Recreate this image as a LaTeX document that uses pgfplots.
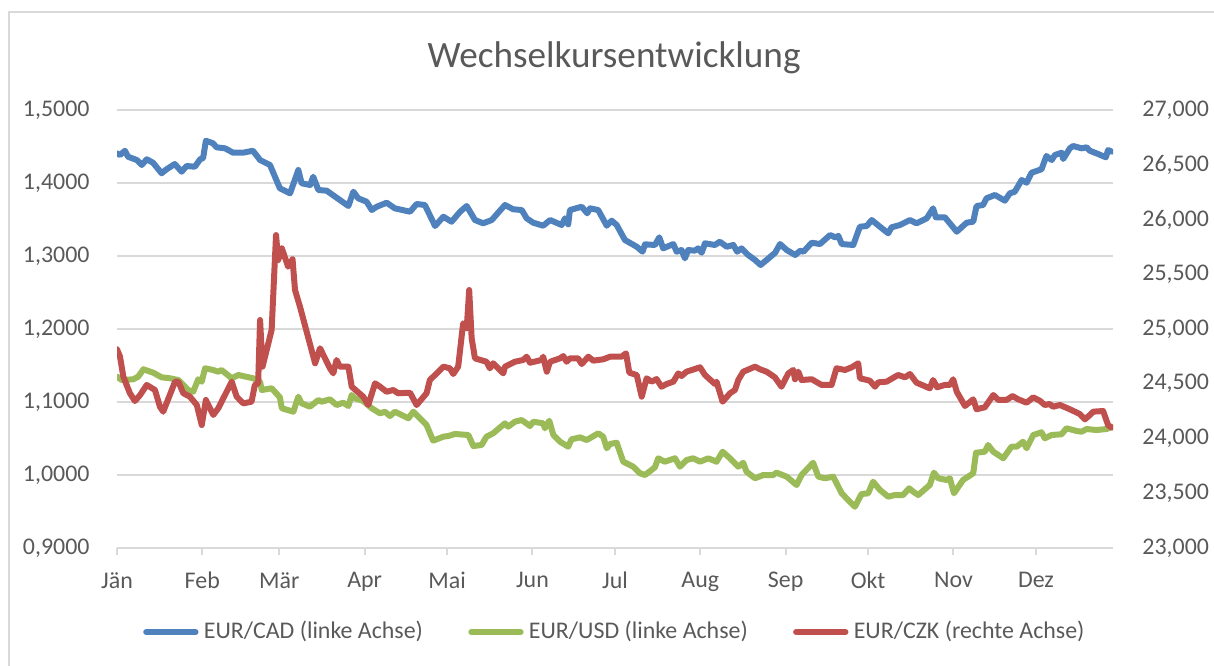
\documentclass[border=0pt]{standalone}
\usepackage{fontspec}
\setmainfont{Carlito}
\usepackage{pgfplots}
\pgfplotsset{compat=1.18}
\definecolor{cadblue}{RGB}{79,129,189}
\definecolor{usdgreen}{RGB}{155,187,89}
\definecolor{czkred}{RGB}{192,80,77}
\definecolor{txtgray}{RGB}{89,89,89}
\definecolor{gridgray}{RGB}{217,217,217}

\pgfplotsset{
  frame/.style={scale only axis, width=373.5bp, height=164.25bp,
    xmin=0, xmax=362, at={(43.875bp,44.25bp)}, anchor=south west,
    scaled y ticks=false,
    tick label style={font=\fontsize{9}{10}\selectfont, text=txtgray},
    y axis line style={draw=none}, ytick style={draw=none}},
  serie/.style={line width=2.25bp, line join=round, line cap=round, mark=none},
}

\begin{document}
\begin{tikzpicture}
\useasboundingbox (0,0) rectangle (455.25bp,249.75bp);
\draw[gridgray, line width=0.75bp] (3.375bp,0) -- (3.375bp,245.25bp) -- (455.25bp,245.25bp);
\node[font=\fontsize{14}{16}\selectfont, text=txtgray] at (230.25bp,228.2bp) {Wechselkursentwicklung};

% linke Achse: EUR/CAD und EUR/USD
\begin{axis}[frame,
    axis x line*=bottom, axis y line*=left,
    x axis line style={draw=gridgray, line width=0.75bp, -},
    xtick={0,31,59,90,120,151,181,212,243,273,304,334},
    xticklabels={Jän,Feb,Mär,Apr,Mai,Jun,Jul,Aug,Sep,Okt,Nov,Dez},
    xtick style={draw=gridgray, line width=0.75bp},
    tick align=outside, major tick length=2.6bp,
    xticklabel style={yshift=-3bp},
    ymin=0.9, ymax=1.5, ytick distance=0.1,
    ymajorgrids, grid style={gridgray, line width=0.75bp},
    yticklabel style={xshift=-4.2bp, /pgf/number format/.cd, fixed, fixed zerofill, precision=4, use comma, assume math mode=true},
    legend columns=3,
    legend style={at={(0.5015,-0.192)}, anchor=center, draw=none, fill=none,
      font=\fontsize{9}{10}\selectfont, text=txtgray,
      /tikz/every even column/.append style={column sep=15bp}},
    legend image code/.code={\draw[#1, line cap=round] (0bp,0bp) -- (18.5bp,0bp);},
]
\addplot[serie, cadblue] coordinates {
(0,1.4407) (1.1,1.4384) (2.9,1.4442) (4.0,1.4360) (7.2,1.4315) (9.0,1.4247) (10.8,1.4325) (13.1,1.4278)
(16.2,1.4133) (18.0,1.4188) (21.0,1.4260) (23.5,1.4155) (25.3,1.4233) (28.3,1.4223) (30.2,1.4325) (31.3,1.4342)
(32.3,1.4579) (34.9,1.4544) (36.2,1.4489) (39.3,1.4475) (42.2,1.4415) (45.8,1.4415) (49.4,1.4442) (52.0,1.4315)
(55.6,1.4247) (59.2,1.3927) (62.9,1.3859) (65.9,1.4178) (67.1,1.3996) (70.2,1.3973) (71.3,1.4086) (73.2,1.3904)
(76.2,1.3895) (84.1,1.3685) (85.9,1.3881) (87.7,1.3790) (90.7,1.3744) (92.6,1.3630) (94.4,1.3675) (98.0,1.3730)
(101.0,1.3653) (106.5,1.3607) (108.9,1.3712) (111.9,1.3699) (115.6,1.3411) (118.6,1.3538) (121.6,1.3470) (124.7,1.3607)
(127.1,1.3685) (130.1,1.3493) (133.1,1.3448) (136.2,1.3493) (141.0,1.3699) (144.0,1.3640) (147.1,1.3630) (148.9,1.3516)
(151.3,1.3456) (154.9,1.3415) (157.4,1.3493) (161.6,1.3425) (162.8,1.3516) (164.0,1.3434) (164.6,1.3630) (168.9,1.3675)
(170.9,1.3585) (171.9,1.3653) (174.9,1.3630) (178.0,1.3415) (179.8,1.3484) (181.6,1.3425) (184.6,1.3219) (188.9,1.3127)
(191.0,1.3059) (191.9,1.3160) (195.5,1.3151) (197.1,1.3256) (198.5,1.3105) (202.2,1.3164) (203.4,1.3059) (205.2,1.3082)
(206.4,1.2968) (207.6,1.3082) (210.0,1.3073) (211.2,1.3105) (212.5,1.3045) (213.7,1.3174) (217.3,1.3151) (219.1,1.3196)
(221.6,1.3127) (224.0,1.3151) (225.4,1.3059) (227.0,1.3105) (229.4,1.3014) (231.9,1.2945) (233.9,1.2877) (236.1,1.2945)
(239.2,1.3045) (241.0,1.3164) (243.4,1.3082) (246.5,1.3014) (248.3,1.3073) (249.5,1.3059) (252.5,1.3182) (255.5,1.3164)
(259.2,1.3288) (261.0,1.3256) (262.2,1.3274) (263.4,1.3164) (267.6,1.3151) (270.0,1.3401) (272.5,1.3411) (274.3,1.3493)
(277.3,1.3401) (280.3,1.3311) (281.5,1.3393) (284.6,1.3425) (288.2,1.3493) (290.6,1.3448) (294.3,1.3516) (296.6,1.3653)
(297.6,1.3530) (300.9,1.3530) (302.7,1.3448) (305.2,1.3333) (308.8,1.3456) (311.2,1.3470) (312.4,1.3685) (314.8,1.3699)
(316.0,1.3790) (319.1,1.3836) (322.7,1.3758) (324.5,1.3859) (326.3,1.3881) (328.8,1.4041) (330.6,1.4004) (332.4,1.4141)
(336.0,1.4188) (337.8,1.4370) (339.7,1.4315) (340.9,1.4384) (343.3,1.4415) (343.9,1.4329) (346.3,1.4475) (347.5,1.4507)
(350.6,1.4475) (352.4,1.4489) (353.6,1.4442) (356.6,1.4397) (359.4,1.4352) (360.2,1.4452) (361.5,1.4429)
};
\addlegendentry{EUR/CAD (linke Achse)}
\addplot[serie, usdgreen] coordinates {
(0,1.1347) (1.7,1.1301) (5.9,1.1311) (7.7,1.1347) (9.6,1.1448) (13.2,1.1401) (16.2,1.1338) (19.3,1.1325)
(22.3,1.1301) (25.9,1.1164) (27.7,1.1141) (29.5,1.1311) (30.8,1.1278) (32.0,1.1462) (35.0,1.1438) (36.8,1.1415)
(38.0,1.1438) (41.7,1.1325) (44.1,1.1370) (49.5,1.1325) (52.0,1.1278) (52.6,1.1164) (56.2,1.1188) (59.2,1.1064)
(59.9,1.0914) (64.1,1.0867) (65.9,1.1073) (67.1,1.0982) (70.1,1.0936) (73.2,1.1027) (74.4,1.1004) (77.4,1.1037)
(79.8,1.0959) (82.2,1.0990) (84.1,1.0945) (85.3,1.1096) (86.5,1.1051) (89.5,1.1014) (92.6,1.0914) (95.6,1.0845)
(97.4,1.0867) (99.2,1.0808) (101.0,1.0867) (105.9,1.0777) (107.7,1.0867) (112.5,1.0685) (114.9,1.0470) (118.6,1.0525)
(120.4,1.0534) (122.8,1.0562) (127.7,1.0548) (129.5,1.0397) (132.5,1.0411) (134.3,1.0525) (136.7,1.0571) (141.0,1.0708)
(142.2,1.0662) (144.6,1.0730) (147.1,1.0753) (150.1,1.0671) (151.3,1.0730) (154.9,1.0708) (155.5,1.0640) (157.1,1.0744)
(158.6,1.0548) (161.0,1.0456) (164.0,1.0388) (165.2,1.0489) (168.3,1.0516) (170.7,1.0479) (174.9,1.0571) (176.7,1.0525)
(178.0,1.0366) (179.2,1.0425) (181.6,1.0442) (184.0,1.0182) (187.6,1.0114) (190.1,1.0023) (191.9,1.0000) (195.5,1.0105)
(196.7,1.0229) (199.1,1.0182) (202.8,1.0229) (204.6,1.0114) (207.0,1.0205) (209.4,1.0229) (211.9,1.0182) (214.9,1.0229)
(217.9,1.0182) (220.1,1.0319) (222.8,1.0229) (225.8,1.0114) (227.6,1.0168) (228.8,1.0045) (231.9,0.9955) (234.9,1.0000)
(238.5,1.0000) (239.7,1.0032) (243.4,0.9977) (247.0,0.9863) (248.8,1.0000) (253.0,1.0168) (254.9,0.9977) (257.3,0.9955)
(260.3,0.9977) (263.4,0.9749) (265.7,0.9658) (268.2,0.9566) (270.6,0.9740) (273.0,0.9749) (274.8,0.9908) (277.3,0.9795)
(280.3,0.9703) (282.7,0.9726) (285.7,0.9726) (287.9,0.9818) (289.4,0.9771) (291.2,0.9726) (295.4,0.9863) (296.9,1.0032)
(298.5,0.9955) (301.5,0.9932) (302.7,0.9955) (304.2,0.9749) (307.5,0.9932) (311.2,1.0023) (312.2,1.0305) (315.4,1.0319)
(316.6,1.0411) (318.5,1.0319) (322.1,1.0229) (325.1,1.0388) (327.0,1.0388) (329.3,1.0456) (330.6,1.0366) (333.0,1.0548)
(336.0,1.0585) (337.2,1.0503) (339.7,1.0548) (343.3,1.0558) (345.1,1.0640) (348.8,1.0603) (350.6,1.0593) (352.4,1.0630)
(356.0,1.0616) (359.7,1.0630) (361.5,1.0662)
};
\addlegendentry{EUR/USD (linke Achse)}
\addlegendimage{serie, czkred}
\addlegendentry{EUR/CZK (rechte Achse)}
\end{axis}

% rechte Achse: EUR/CZK
\begin{axis}[frame,
    hide x axis, axis y line*=right,
    ymin=23000, ymax=27000, ytick distance=500,
    yticklabel style={xshift=7.5bp, /pgf/number format/.cd, fixed, precision=0, 1000 sep={,}, assume math mode=true},
]
\addplot[serie, czkred] coordinates {
(0,24815) (1.1,24747) (2.3,24564) (4.7,24413) (6.5,24342) (8.4,24397) (10.8,24489) (13.8,24443)
(15.6,24290) (16.8,24245) (21.1,24519) (22.3,24519) (24.1,24413) (26.5,24382) (29.0,24306) (30.8,24123)
(32.3,24352) (35.0,24215) (36.8,24276) (41.7,24519) (43.5,24382) (45.9,24321) (48.9,24336) (50.1,24489)
(51.3,24504) (52.0,25082) (52.9,24656) (54.4,24808) (56.2,24991) (57.8,25858) (58.6,25630) (59.9,25737)
(62.2,25569) (63.8,25637) (64.7,25356) (66.5,25204) (69.9,24884) (72.0,24687) (73.8,24824) (77.4,24641)
(78.6,24595) (79.8,24717) (81.0,24656) (84.1,24656) (85.3,24473) (89.5,24382) (91.3,24306) (93.8,24504)
(95.6,24473) (98.0,24427) (100.4,24443) (102.2,24413) (106.5,24418) (108.9,24306) (112.5,24413) (113.7,24534)
(115.6,24580) (118.6,24656) (121.0,24641) (122.2,24589) (124.0,24656) (125.8,25052) (127.1,25006) (128.0,25356)
(128.9,24915) (130.1,24732) (134.3,24701) (135.5,24641) (136.7,24687) (140.4,24595) (141.0,24656) (144.6,24701)
(147.6,24717) (148.9,24747) (150.1,24692) (154.3,24717) (154.9,24747) (156.2,24610) (157.4,24701) (161.0,24732)
(162.2,24753) (163.4,24701) (164.6,24732) (167.6,24732) (168.9,24680) (171.3,24747) (173.1,24711) (176.7,24723)
(179.2,24747) (183.4,24747) (185.0,24778) (186.2,24601) (188.9,24580) (190.7,24382) (192.5,24550) (194.3,24519)
(196.1,24543) (197.9,24473) (199.8,24498) (202.2,24519) (204.0,24595) (205.2,24571) (207.0,24610) (211.9,24650)
(213.7,24580) (217.3,24498) (217.9,24519) (220.1,24336) (222.8,24413) (224.6,24443) (225.8,24534) (227.6,24610)
(231.9,24656) (233.7,24632) (236.1,24610) (239.1,24559) (241.5,24473) (244.0,24595) (245.8,24626) (246.4,24541)
(247.6,24610) (248.8,24534) (252.5,24541) (256.1,24489) (259.7,24489) (261.5,24641) (264.6,24626) (267.0,24650)
(269.4,24687) (270.0,24550) (273.6,24528) (275.5,24473) (276.7,24513) (279.7,24519) (283.9,24580) (286.4,24559)
(288.2,24589) (290.6,24510) (295.4,24458) (296.6,24534) (298.1,24468) (300.9,24489) (302.7,24489) (303.9,24541)
(305.2,24427) (308.2,24297) (311.2,24358) (312.4,24267) (315.4,24285) (318.5,24397) (320.3,24352) (323.3,24352)
(325.5,24388) (327.5,24358) (330.6,24327) (333.0,24376) (335.4,24345) (337.2,24306) (339.0,24315) (340.2,24290)
(342.7,24306) (346.3,24267) (349.9,24224) (351.8,24175) (353.6,24215) (354.8,24245) (358.4,24251) (360.2,24123)
(361.5,24099)
};
\end{axis}
\end{tikzpicture}
\end{document}
